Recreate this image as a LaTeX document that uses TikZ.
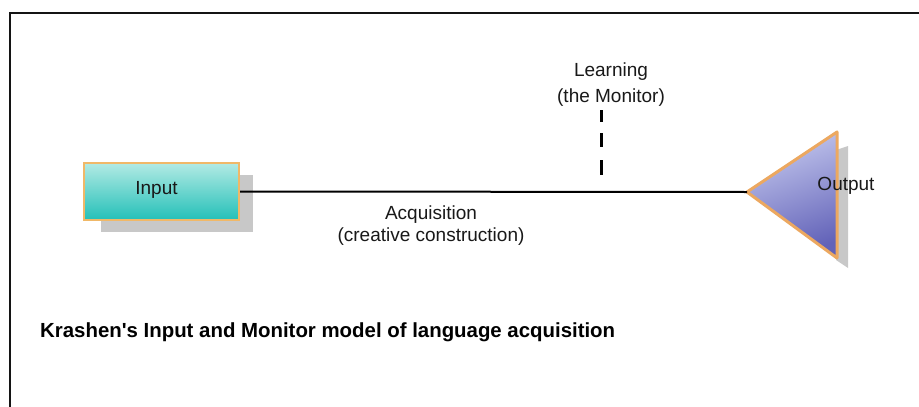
\documentclass[tikz,border=0pt]{standalone}
\usepackage{fontspec}
\setmainfont{Liberation Sans}
\newfontfamily\captfont{Liberation Sans}
\definecolor{frameline}{RGB}{20,20,20}
\definecolor{boxtop}{RGB}{178,234,228}
\definecolor{boxbot}{RGB}{36,192,184}
\definecolor{boxedge}{RGB}{240,184,104}
\definecolor{shadowgray}{RGB}{200,200,200}
\definecolor{tritop}{RGB}{196,200,238}
\definecolor{tribot}{RGB}{98,98,184}
\definecolor{triedge}{RGB}{236,168,96}
\definecolor{txt}{RGB}{25,25,25}
\tikzset{
  lbl/.style={font=\fontsize{19}{22}\selectfont, text=txt, inner sep=0pt, align=center},
  capt/.style={font=\captfont\fontsize{20.4}{23}\selectfont\bfseries, text=black, inner sep=0pt, anchor=west},
  inbox/.style={draw=boxedge, line width=2pt, top color=boxtop, bottom color=boxbot,
     minimum width=155pt, minimum height=57pt, inner sep=0pt},
  conn/.style={draw=black, line width=2pt},
  monitorline/.style={draw=black, line width=3pt}
}
\begin{document}
\begin{tikzpicture}[x=1pt,y=-1pt]
\useasboundingbox (0,0) rectangle (919,407);
\fill[white] (0,0) rectangle (919,407);
% frame
\draw[frameline, line width=2pt] (919,12.5) -- (9.5,12.5) -- (9.5,407);
% input shadow and box
\fill[shadowgray] (101,175) rectangle (253,232);
\node[inbox] (input) at (161.5,191.5) {};
\node[lbl] (inputtxt) at (156.5,190) {Input};
% output triangle shadow
\fill[shadowgray] (836,150) -- (848,146) -- (848,268) -- (836,260) -- cycle;
\coordinate (tip) at (747,192);
\coordinate (ttop) at (837,132);
\coordinate (tbot) at (837,258);
\path[top color=tritop, bottom color=tribot, shading angle=20]
  (tip) -- (ttop) -- (tbot) -- cycle;
\draw[triedge, line width=3pt, line join=round] (tip) -- (ttop) -- (tbot) -- cycle;
\node[lbl] (output) at (846,186) {Output};
% connector
\draw[conn] (input.east) -- (tip);
% learning
\node[lbl] (learn) at (611,72) {Learning};
\node[lbl] (monitor) at (611,98) {(the Monitor)};
\coordinate (d1a) at (601,110);
\coordinate (d1b) at (601,122);
\coordinate (d2a) at (601,133);
\coordinate (d2b) at (601,147);
\coordinate (d3a) at (601,160);
\coordinate (d3b) at (601,175);
\draw[monitorline] (d1a) -- (d1b);
\draw[monitorline] (d2a) -- (d2b);
\draw[monitorline] (d3a) -- (d3b);
% acquisition
\node[lbl] (acq) at (431,215) {Acquisition};
\node[lbl] (cc) at (431,237) {(creative construction)};
% caption
\node[capt] (caption) at (40,332) {Krashen's Input and Monitor model of language acquisition};
\end{tikzpicture}
\end{document}
